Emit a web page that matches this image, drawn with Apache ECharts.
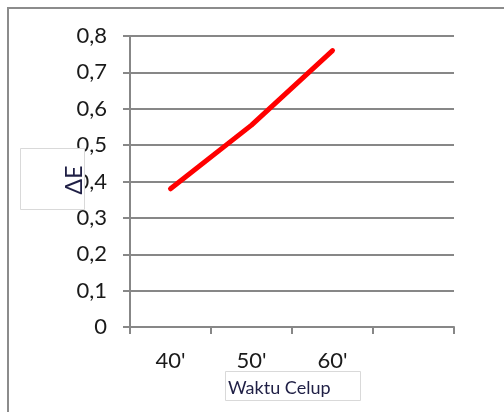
<!DOCTYPE html>
<html>
<head>
<meta charset="utf-8">
<script src="https://cdn.jsdelivr.net/npm/echarts@6/dist/echarts.min.js"></script>
<style>
html,body{margin:0;padding:0;background:#fff;}
#chart{width:504px;height:412px;}
</style>
</head>
<body>
<div id="chart"></div>
<script>
const categories = ["40'", "50'", "60'", ""];
const deltaE = [0.38, 0.555, 0.76, null];
const yTicks = [0, 0.1, 0.2, 0.3, 0.4, 0.5, 0.6, 0.7, 0.8];
const xTitle = 'Waktu Celup';
const yTitle = 'ΔE';

const FONT = 'Lato';
const chart = echarts.init(document.getElementById('chart'), null, {renderer: 'canvas'});
const gridCol = '#878787';
chart.setOption({
  animation: false,
  backgroundColor: '#fff',
  grid: {left: 130, right: 50, top: 36, bottom: 85, containLabel: false},
  xAxis: {
    type: 'category',
    data: categories,
    boundaryGap: true,
    axisLine: {lineStyle: {color: gridCol, width: 2}},
    axisTick: {show: true, alignWithLabel: false, length: 7, lineStyle: {color: gridCol, width: 2}},
    axisLabel: {color: '#1a1a1a', fontFamily: FONT, fontSize: 22, margin: 23}
  },
  yAxis: {
    type: 'value',
    min: yTicks[0],
    max: yTicks[yTicks.length - 1],
    interval: 0.1,
    axisLine: {show: true, lineStyle: {color: gridCol, width: 2}},
    axisTick: {show: true, length: 7, lineStyle: {color: gridCol, width: 2}},
    splitLine: {lineStyle: {color: gridCol, width: 2}},
    axisLabel: {
      color: '#1a1a1a', fontFamily: FONT, fontSize: 22, margin: 23,
      formatter: v => (Math.round(v * 10) === 0 ? '0' : v.toFixed(1).replace('.', ','))
    }
  },
  series: [{
    type: 'line',
    data: deltaE,
    showSymbol: false,
    symbol: 'none',
    lineStyle: {color: '#ff0000', width: 5, cap: 'round', join: 'round'},
    z: 5
  }],
  graphic: [
    {type: 'line', z: 100, shape: {x1: 7, y1: 8, x2: 504, y2: 8}, style: {stroke: '#8c8c8c', lineWidth: 2}},
    {type: 'line', z: 100, shape: {x1: 8, y1: 8, x2: 8, y2: 412}, style: {stroke: '#8c8c8c', lineWidth: 2}},
    {type: 'rect', z: 100, shape: {x: 20.5, y: 148.5, width: 64, height: 61}, style: {fill: '#fff', stroke: '#d9d9d9', lineWidth: 1}},
    {type: 'text', z: 101, x: 75, y: 180, rotation: Math.PI / 2,
      style: {text: yTitle, font: '23px ' + FONT, fill: '#1f1f45', align: 'center', verticalAlign: 'middle'}},
    {type: 'rect', z: 100, shape: {x: 225.5, y: 371.5, width: 135, height: 29}, style: {fill: '#fff', stroke: '#d9d9d9', lineWidth: 1}},
    {type: 'text', z: 101, x: 228, y: 388,
      style: {text: xTitle, font: '18px ' + FONT, fill: '#1f1f45', align: 'left', verticalAlign: 'middle'}}
  ]
});
</script>
</body>
</html>
